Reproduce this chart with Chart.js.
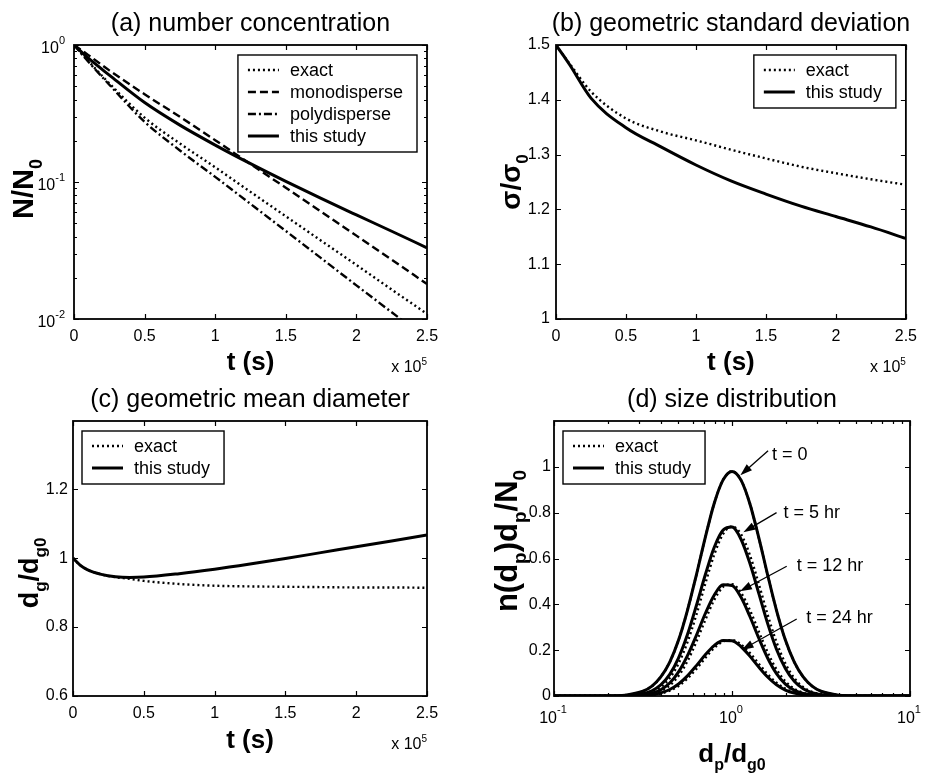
<!DOCTYPE html>
<html>
<head>
<meta charset="utf-8">
<script src="https://cdn.jsdelivr.net/npm/chart.js@4.4.1/dist/chart.umd.min.js"></script>
<style>
  html, body { margin: 0; padding: 0; background: #fff; }
  canvas { position: absolute; }
</style>
</head>
<body>
<canvas id="pa" width="462" height="386" style="left:0;top:0"></canvas>
<canvas id="pb" width="463" height="386" style="left:462px;top:0"></canvas>
<canvas id="pc" width="462" height="387" style="left:0;top:386px"></canvas>
<canvas id="pd" width="463" height="387" style="left:462px;top:386px"></canvas>
<script>
// ---- data (time in units of 1e5 s) ----
const T_TICKS = [0, 0.5, 1, 1.5, 2, 2.5];

// (a) number concentration N/N0
const T_A = [0, 0.1, 0.25, 0.5, 0.75, 1, 1.25, 1.5, 1.75, 2, 2.25, 2.5];
const A_EXACT = [1, 0.767, 0.525, 0.295, 0.191, 0.128, 0.0847, 0.0562, 0.0373, 0.0248, 0.0164, 0.0109];
const A_MONO = [1, 0.847, 0.653, 0.437, 0.299, 0.202, 0.135, 0.0908, 0.0607, 0.0406, 0.0271, 0.018];
const A_POLY = [1, 0.759, 0.513, 0.275, 0.17, 0.109, 0.0692, 0.0439, 0.0278, 0.0176, 0.0112, 0.0071];
const A_STUDY = [1, 0.804, 0.603, 0.38, 0.26, 0.186, 0.136, 0.101, 0.0759, 0.0575, 0.0437, 0.0331];
const A_YTICKS = [0.01, 0.1, 1];

// (b) geometric standard deviation
const T_B = [0, 0.05, 0.1, 0.25, 0.5, 0.75, 1, 1.25, 1.5, 1.75, 2, 2.25, 2.5];
const B_EXACT = [1.5, 1.482, 1.465, 1.415, 1.366, 1.342, 1.326, 1.309, 1.293, 1.278, 1.266, 1.255, 1.245];
const B_STUDY = [1.5, 1.482, 1.463, 1.403, 1.349, 1.314, 1.281, 1.252, 1.228, 1.206, 1.187, 1.168, 1.147];
const B_YTICKS = [1, 1.1, 1.2, 1.3, 1.4, 1.5];

// (c) geometric mean diameter
const T_C = [0, 0.05, 0.1, 0.2, 0.3, 0.4, 0.5, 0.75, 1, 1.25, 1.5, 1.75, 2, 2.25, 2.5];
const C_EXACT = [1.0, 0.98, 0.967, 0.953, 0.945, 0.94, 0.934, 0.925, 0.92, 0.918, 0.917, 0.916, 0.915, 0.915, 0.914];
const C_STUDY = [1.0, 0.98, 0.967, 0.953, 0.946, 0.944, 0.945, 0.955, 0.968, 0.983, 0.999, 1.016, 1.033, 1.05, 1.067];
const C_YTICKS = [0.6, 0.8, 1, 1.2];

// (d) size distribution n(dp)dp/N0 vs dp/dg0
const DP = [0.1, 0.2, 0.251, 0.316, 0.355, 0.398, 0.447, 0.501, 0.562, 0.631, 0.708, 0.794, 0.891, 1,
  1.122, 1.259, 1.413, 1.585, 1.778, 1.995, 2.239, 2.512, 2.818, 3.162, 3.981, 5.012, 10];
const D0_EXACT = [0, 0.0005, 0.0038, 0.0207, 0.043, 0.083, 0.148, 0.244, 0.374, 0.529, 0.692, 0.84, 0.943, 0.98,
  0.943, 0.84, 0.692, 0.529, 0.374, 0.244, 0.148, 0.083, 0.043, 0.0207, 0.0038, 0.0005, 0];
const D0_STUDY = [0, 0.0005, 0.0038, 0.0207, 0.043, 0.083, 0.148, 0.244, 0.374, 0.529, 0.692, 0.84, 0.943, 0.98,
  0.943, 0.84, 0.692, 0.529, 0.374, 0.244, 0.148, 0.083, 0.043, 0.0207, 0.0038, 0.0005, 0];
const D5_EXACT = [0, 0.0001, 0.001, 0.0075, 0.018, 0.039, 0.078, 0.142, 0.235, 0.355, 0.49, 0.616, 0.707, 0.74,
  0.707, 0.616, 0.49, 0.355, 0.235, 0.142, 0.078, 0.039, 0.018, 0.0075, 0.001, 0.0001, 0];
const D5_STUDY = [0, 0.0001, 0.0014, 0.0098, 0.0229, 0.0486, 0.0942, 0.1665, 0.268, 0.395, 0.529, 0.648, 0.724, 0.737,
  0.685, 0.58, 0.449, 0.317, 0.204, 0.12, 0.064, 0.0313, 0.014, 0.0057, 0.0007, 0.0001, 0];
const D12_EXACT = [0, 0, 0.0004, 0.0035, 0.0092, 0.0217, 0.046, 0.088, 0.152, 0.237, 0.332, 0.419, 0.476, 0.488,
  0.451, 0.376, 0.282, 0.191, 0.116, 0.064, 0.0316, 0.0141, 0.0057, 0.002, 0.0002, 0, 0];
const D12_STUDY = [0, 0, 0.0005, 0.0047, 0.012, 0.0275, 0.0566, 0.105, 0.176, 0.265, 0.36, 0.44, 0.485, 0.482,
  0.432, 0.348, 0.253, 0.166, 0.098, 0.052, 0.025, 0.0108, 0.0042, 0.0015, 0.0001, 0, 0];
const D24_EXACT = [0, 0, 0.0002, 0.0018, 0.0046, 0.0109, 0.023, 0.044, 0.076, 0.1185, 0.166, 0.2095, 0.238, 0.244,
  0.2255, 0.188, 0.141, 0.0955, 0.058, 0.032, 0.0158, 0.007, 0.0028, 0.001, 0.0001, 0, 0];
const D24_STUDY = [0, 0, 0.0003, 0.0024, 0.006, 0.0138, 0.0283, 0.0525, 0.088, 0.1325, 0.18, 0.22, 0.2425, 0.241,
  0.216, 0.174, 0.1265, 0.083, 0.049, 0.026, 0.0125, 0.0054, 0.0021, 0.0008, 0.0001, 0, 0];
const D_XTICKS = [0.1, 1, 10];
const D_YTICKS = [0, 0.2, 0.4, 0.6, 0.8, 1];

// ---- styling ----
const FONT = '"Liberation Sans", Arial, Helvetica, sans-serif';
const STYLE = {
  exact: { borderDash: [2, 3], borderWidth: 2.4 },
  mono: { borderDash: [8, 4], borderWidth: 2.4 },
  poly: { borderDash: [8, 3, 2, 3], borderWidth: 2.4 },
  study: { borderDash: [], borderWidth: 3 },
};

function series(label, xs, ys, kind) {
  return {
    label,
    data: xs.map((x, i) => ({ x, y: ys[i] })),
    borderColor: '#000',
    backgroundColor: '#000',
    pointRadius: 0,
    fill: false,
    cubicInterpolationMode: 'monotone',
    ...STYLE[kind],
  };
}

const fmt = (v) => String(+Number(v).toFixed(2));

// text with sub/superscripts: parts = [[str, 0 normal | 1 sub | 2 sup], ...]
function rich(ctx, parts, x, y, size, bold, align) {
  const font = (s) => `${bold ? 'bold ' : ''}${s}px ${FONT}`;
  const small = Math.round(size * 0.62);
  let w = 0;
  const segs = parts.map(([s, m]) => {
    ctx.font = font(m ? small : size);
    const sw = ctx.measureText(s).width;
    w += sw;
    return [s, m, sw];
  });
  let cx = align === 'center' ? x - w / 2 : align === 'right' ? x - w : x;
  ctx.textAlign = 'left';
  ctx.textBaseline = 'alphabetic';
  for (const [s, m, sw] of segs) {
    ctx.font = font(m ? small : size);
    const dy = m === 1 ? size * 0.3 : m === 2 ? -size * 0.42 : 0;
    ctx.fillText(s, cx, y + dy);
    cx += sw;
  }
  return w;
}

function minorValues(sc) {
  const out = [];
  const e0 = Math.floor(Math.log10(sc.min) + 1e-9), e1 = Math.ceil(Math.log10(sc.max) - 1e-9);
  for (let e = e0; e < e1; e++) for (let k = 2; k <= 9; k++) out.push(k * Math.pow(10, e));
  return out;
}

// MATLAB-like decoration: box, inward ticks, titles, legend, notes
const matlab = {
  id: 'matlab',
  afterDatasetsDraw(chart, args, o) {
    const { ctx, chartArea: a, scales: { x, y } } = chart;
    ctx.save();
    ctx.fillStyle = '#000';
    ctx.strokeStyle = '#000';

    // ticks
    ctx.lineWidth = 1.2;
    const tick = (sc, v, len) => {
      const p = Math.round(sc.getPixelForValue(v)) + 0.5;
      ctx.beginPath();
      if (sc.isHorizontal()) {
        ctx.moveTo(p, a.bottom); ctx.lineTo(p, a.bottom - len);
        ctx.moveTo(p, a.top); ctx.lineTo(p, a.top + len);
      } else {
        ctx.moveTo(a.left, p); ctx.lineTo(a.left + len, p);
        ctx.moveTo(a.right, p); ctx.lineTo(a.right - len, p);
      }
      ctx.stroke();
    };
    x.ticks.forEach((t) => tick(x, t.value, 5));
    y.ticks.forEach((t) => tick(y, t.value, 5));
    if (x.type === 'logarithmic') minorValues(x).forEach((v) => tick(x, v, 3));
    if (y.type === 'logarithmic') minorValues(y).forEach((v) => tick(y, v, 3));

    // frame
    ctx.lineWidth = 1.8;
    ctx.strokeRect(a.left, a.top, a.right - a.left, a.bottom - a.top);

    // log tick labels
    if (y.type === 'logarithmic') {
      for (const t of y.ticks) {
        const p = y.getPixelForValue(t.value);
        const e = String(Math.round(Math.log10(t.value)));
        ctx.font = `11px ${FONT}`;
        const ew = ctx.measureText(e).width;
        ctx.textAlign = 'left'; ctx.textBaseline = 'alphabetic';
        ctx.fillText(e, a.left - 9 - ew, p - 1);
        ctx.font = `16px ${FONT}`;
        ctx.textAlign = 'right'; ctx.textBaseline = 'middle';
        ctx.fillText('10', a.left - 9 - ew, p + 4);
      }
    }
    if (x.type === 'logarithmic') {
      for (const t of x.ticks) {
        const p = x.getPixelForValue(t.value);
        const e = String(Math.round(Math.log10(t.value)));
        ctx.font = `11px ${FONT}`;
        const ew = ctx.measureText(e).width;
        ctx.font = `16px ${FONT}`;
        const tw = ctx.measureText('10').width;
        const left = p - 1 - (tw + ew) / 2;
        ctx.textAlign = 'left'; ctx.textBaseline = 'middle';
        ctx.fillText('10', left, a.bottom + 23);
        ctx.font = `11px ${FONT}`;
        ctx.textBaseline = 'alphabetic';
        ctx.fillText(e, left + tw, a.bottom + 17);
      }
    }

    // title
    ctx.font = `25px ${FONT}`;
    ctx.textAlign = 'center'; ctx.textBaseline = 'alphabetic';
    ctx.fillText(o.title, (a.left + a.right) / 2, a.top - 14);

    // axis titles
    rich(ctx, o.xTitle, (a.left + a.right) / 2, a.bottom + o.xTitleGap, 26, true, 'center');
    ctx.save();
    ctx.translate(o.yTitleX, o.yTitleY);
    ctx.rotate(-Math.PI / 2);
    rich(ctx, o.yTitle, 0, 0, o.yTitleSize, true, 'center');
    ctx.restore();

    if (o.timeScale) rich(ctx, [['x 10', 0], ['5', 2]], a.right, a.bottom + 53, 16, false, 'right');

    // legend
    if (o.legend) {
      const items = o.legend.items.map((i) => chart.data.datasets[i]);
      ctx.font = `18px ${FONT}`;
      const tw = Math.max(...items.map((d) => ctx.measureText(d.label).width));
      const bw = 52 + tw + 14, bh = 15 + (items.length - 1) * 22 + 16;
      const bx = o.legend.corner === 'tr' ? a.right - 10 - bw : a.left + 9;
      const by = a.top + 10;
      ctx.fillStyle = '#fff';
      ctx.fillRect(bx, by, bw, bh);
      ctx.fillStyle = '#000';
      ctx.lineWidth = 1.4;
      ctx.setLineDash([]);
      ctx.strokeRect(bx, by, bw, bh);
      items.forEach((d, i) => {
        const ry = by + 15 + i * 22;
        ctx.lineWidth = d.borderWidth;
        ctx.setLineDash(d.borderDash);
        ctx.beginPath();
        ctx.moveTo(bx + 10, ry); ctx.lineTo(bx + 41, ry);
        ctx.stroke();
        ctx.setLineDash([]);
        ctx.font = `18px ${FONT}`;
        ctx.textAlign = 'left'; ctx.textBaseline = 'middle';
        ctx.fillText(d.label, bx + 52, ry + 1);
      });
    }

    // annotations with arrows
    for (const n of o.notes || []) {
      const tx = x.getPixelForValue(n.at[0]), ty = y.getPixelForValue(n.at[1]);
      ctx.font = `18px ${FONT}`;
      ctx.textAlign = 'left'; ctx.textBaseline = 'middle';
      ctx.fillText(n.text, tx, ty);
      const fx = x.getPixelForValue(n.from[0]), fy = y.getPixelForValue(n.from[1]);
      const px = x.getPixelForValue(n.to[0]), py = y.getPixelForValue(n.to[1]);
      const ang = Math.atan2(py - fy, px - fx);
      ctx.lineWidth = 1.3;
      ctx.setLineDash([]);
      ctx.beginPath();
      ctx.moveTo(fx, fy);
      ctx.lineTo(px - 8 * Math.cos(ang), py - 8 * Math.sin(ang));
      ctx.stroke();
      ctx.beginPath();
      ctx.moveTo(px, py);
      ctx.lineTo(px - 12 * Math.cos(ang) + 4 * Math.sin(ang), py - 12 * Math.sin(ang) - 4 * Math.cos(ang));
      ctx.lineTo(px - 12 * Math.cos(ang) - 4 * Math.sin(ang), py - 12 * Math.sin(ang) + 4 * Math.cos(ang));
      ctx.closePath();
      ctx.fill();
    }
    ctx.restore();
  },
};

function axis(opts) {
  const { type, min, max, ticks, width, height, padding, showLabels } = opts;
  return {
    type,
    min,
    max,
    grid: { display: false, drawTicks: false },
    border: { display: false },
    ticks: {
      display: showLabels,
      padding,
      color: '#000',
      font: { family: FONT, size: 16 },
      callback: fmt,
      maxRotation: 0,
      autoSkip: false,
    },
    afterBuildTicks: (sc) => { sc.ticks = ticks.map((value) => ({ value })); },
    afterFit: (sc) => {
      if (width != null) sc.width = width;
      if (height != null) sc.height = height;
    },
  };
}

function panel(id, { box, datasets, x, y, deco }) {
  const cv = document.getElementById(id);
  return new Chart(cv, {
    type: 'line',
    data: { datasets },
    options: {
      responsive: false,
      animation: false,
      events: [],
      layout: { padding: { top: box.top, right: cv.width - box.right, left: 0, bottom: 0 } },
      plugins: { legend: { display: false }, tooltip: { enabled: false }, title: { display: false }, matlab: deco },
      scales: {
        x: axis({ ...x, height: cv.height - box.bottom }),
        y: axis({ ...y, width: box.left }),
      },
    },
    plugins: [matlab],
  });
}

panel('pa', {
  box: { left: 74, top: 45, right: 427, bottom: 319 },
  datasets: [
    series('exact', T_A, A_EXACT, 'exact'),
    series('monodisperse', T_A, A_MONO, 'mono'),
    series('polydisperse', T_A, A_POLY, 'poly'),
    series('this study', T_A, A_STUDY, 'study'),
  ],
  x: { type: 'linear', min: 0, max: 2.5, ticks: T_TICKS, padding: 8, showLabels: true },
  y: { type: 'logarithmic', min: 0.01, max: 1, ticks: A_YTICKS, padding: 5, showLabels: false },
  deco: {
    title: '(a) number concentration',
    xTitle: [['t (s)', 0]], xTitleGap: 51,
    yTitle: [['N/N', 0], ['0', 1]], yTitleX: 33, yTitleY: 189, yTitleSize: 29,
    timeScale: true,
    legend: { items: [0, 1, 2, 3], corner: 'tr' },
  },
});

panel('pb', {
  box: { left: 94, top: 45, right: 448, bottom: 319 },
  datasets: [
    series('exact', T_B, B_EXACT, 'exact'),
    series('this study', T_B, B_STUDY, 'study'),
  ],
  x: { type: 'linear', min: 0, max: 2.5, ticks: T_TICKS, padding: 8, showLabels: true },
  y: { type: 'linear', min: 1, max: 1.5, ticks: B_YTICKS, padding: 6, showLabels: true },
  deco: {
    title: '(b) geometric standard deviation',
    xTitle: [['t (s)', 0]], xTitleGap: 51,
    yTitle: [['\u03c3/\u03c3', 0], ['0', 1]], yTitleX: 58, yTitleY: 182, yTitleSize: 28,
    timeScale: true,
    legend: { items: [0, 1], corner: 'tr' },
  },
});

panel('pc', {
  box: { left: 73, top: 35, right: 427, bottom: 310 },
  datasets: [
    series('exact', T_C, C_EXACT, 'exact'),
    series('this study', T_C, C_STUDY, 'study'),
  ],
  x: { type: 'linear', min: 0, max: 2.5, ticks: T_TICKS, padding: 8, showLabels: true },
  y: { type: 'linear', min: 0.6, max: 1.398, ticks: C_YTICKS, padding: 5, showLabels: true },
  deco: {
    title: '(c) geometric mean diameter',
    xTitle: [['t (s)', 0]], xTitleGap: 52,
    yTitle: [['d', 0], ['g', 1], ['/d', 0], ['g0', 1]], yTitleX: 38, yTitleY: 187, yTitleSize: 27,
    timeScale: true,
    legend: { items: [0, 1], corner: 'tl' },
  },
});

panel('pd', {
  box: { left: 92, top: 35, right: 448, bottom: 310 },
  datasets: [
    series('exact', DP, D0_EXACT, 'exact'),
    series('this study', DP, D0_STUDY, 'study'),
    series('exact, t = 5 hr', DP, D5_EXACT, 'exact'),
    series('this study, t = 5 hr', DP, D5_STUDY, 'study'),
    series('exact, t = 12 hr', DP, D12_EXACT, 'exact'),
    series('this study, t = 12 hr', DP, D12_STUDY, 'study'),
    series('exact, t = 24 hr', DP, D24_EXACT, 'exact'),
    series('this study, t = 24 hr', DP, D24_STUDY, 'study'),
  ],
  x: { type: 'logarithmic', min: 0.1, max: 10, ticks: D_XTICKS, padding: 8, showLabels: false },
  y: { type: 'linear', min: 0, max: 1.2, ticks: D_YTICKS, padding: 3, showLabels: true },
  deco: {
    title: '(d) size distribution',
    xTitle: [['d', 0], ['p', 1], ['/d', 0], ['g0', 1]], xTitleGap: 66,
    yTitle: [['n(d', 0], ['p', 1], [')d', 0], ['p', 1], ['/N', 0], ['0', 1]], yTitleX: 55, yTitleY: 155, yTitleSize: 31,
    legend: { items: [0, 1], corner: 'tl' },
    notes: [
      { text: 't = 0', at: [1.68, 1.051], from: [1.595, 1.07], to: [1.114, 0.963] },
      { text: 't = 5 hr', at: [1.945, 0.8], from: [1.78, 0.8], to: [1.158, 0.715] },
      { text: 't = 12 hr', at: [2.31, 0.569], from: [2.03, 0.566], to: [1.109, 0.457] },
      { text: 't = 24 hr', at: [2.61, 0.34], from: [2.31, 0.336], to: [1.133, 0.201] },
    ],
  },
});
</script>
</body>
</html>
